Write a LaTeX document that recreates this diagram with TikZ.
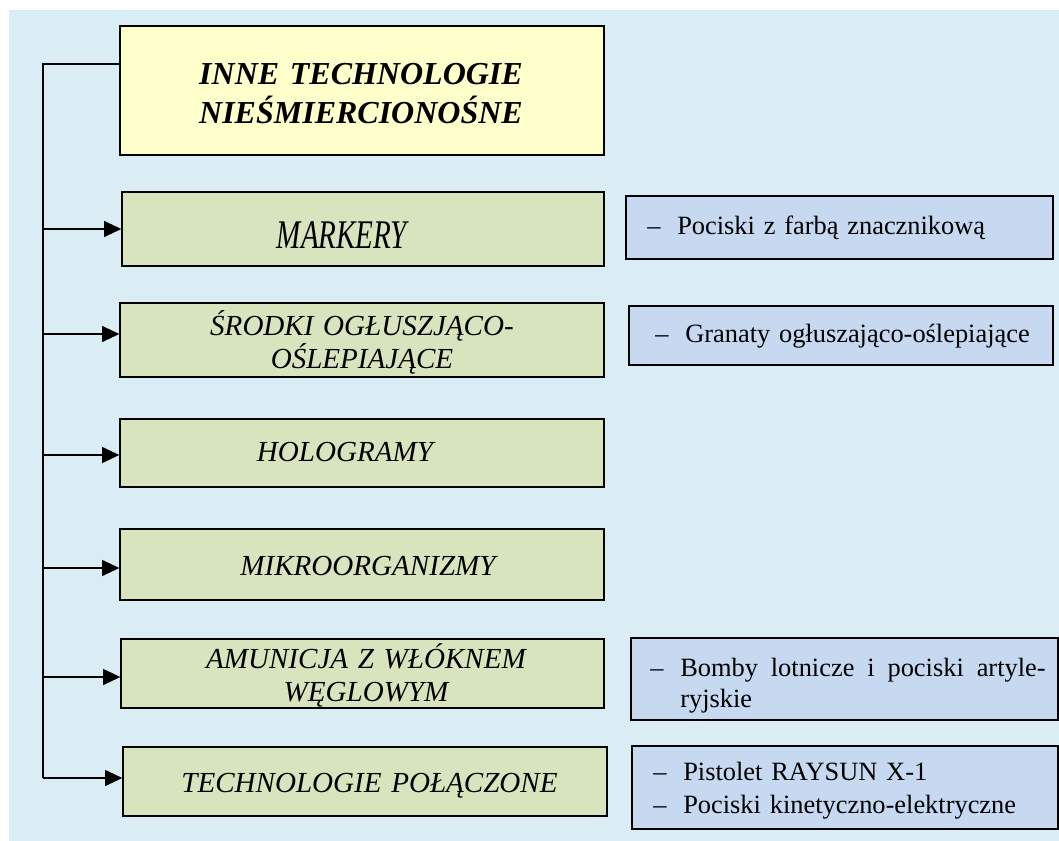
\documentclass[tikz,border=0pt]{standalone}
\usepackage{fontspec}
\setmainfont{Liberation Serif}
\usetikzlibrary{arrows.meta,fit}

\definecolor{bgblue}{HTML}{DAEDF4}
\definecolor{titlefill}{HTML}{FFFFCC}
\definecolor{catfill}{HTML}{D7E4BD}
\definecolor{itemfill}{HTML}{C6D9F1}

\tikzset{
  titlebox/.style={draw=black, line width=1pt, fill=titlefill, inner sep=0pt},
  catbox/.style={draw=black, line width=1pt, fill=catfill, inner sep=0pt},
  itembox/.style={draw=black, line width=1pt, fill=itemfill, inner sep=0pt},
  titletext/.style={inner sep=0pt, anchor=base, text width=450pt, align=center,
    font=\fontsize{24}{29.25}\selectfont\bfseries\itshape},
  cattext/.style={inner sep=0pt, anchor=base, text width=330pt, align=center,
    font=\fontsize{21.8}{25}\selectfont\itshape},
  itemtext/.style={inner sep=0pt, anchor=base west, text width=300pt, align=left,
    font=\fontsize{19.8}{23.5}\selectfont},
  trunk/.style={draw=black, line width=1.3pt},
  branch/.style={draw=black, line width=1.2pt, -{Triangle[length=13pt,width=12pt]}},
}
\newcommand{\itemdash}{\makebox[22.5pt][l]{–}}

\begin{document}
\begin{tikzpicture}[x=0.75pt, y=-0.75pt]
  \useasboundingbox (0,0) rectangle (1059,841);
  \fill[bgblue] (9,10) rectangle (1059,841);

  % main heading
  \node[titlebox, fit={(120,26) (604,155)}] (title) {};
  \node[titletext] at (361,85) {INNE TECHNOLOGIE\\NIEŚMIERCIONOŚNE};

  % categories
  \node[catbox, fit={(122,192) (604,266)}] (markery) {};
  \node[cattext] at (342,249) {\scalebox{1}[1.4]{MARKERY}};

  \node[catbox, fit={(120,303) (604,377)}] (srodki) {};
  \node[cattext] at (362,335) {ŚRODKI OGŁUSZJĄCO-\\OŚLEPIAJĄCE};

  \node[catbox, fit={(120,419) (604,487)}] (holo) {};
  \node[cattext] at (345,461) {HOLOGRAMY};

  \node[catbox, fit={(120,529) (604,600)}] (mikro) {};
  \node[cattext] at (368,575) {MIKROORGANIZMY};

  \node[catbox, fit={(121,639) (604,708)}] (amun) {};
  \node[cattext] at (366,668) {AMUNICJA Z WŁÓKNEM\\WĘGLOWYM};

  \node[catbox, fit={(123,747) (607,816)}] (tech) {};
  \node[cattext] at (369.5,792) {TECHNOLOGIE POŁĄCZONE};

  % examples
  \node[itembox, fit={(626,196) (1053,259)}] (ex1) {};
  \node[itemtext] at (647,235) {\itemdash Pociski z farbą znacznikową};

  \node[itembox, fit={(629,306) (1053,365)}] (ex2) {};
  \node[itemtext] at (655,343) {\itemdash Granaty ogłuszająco-oślepiające};

  \node[itembox, fit={(631,638) (1058,720)}] (ex3) {};
  \node[itemtext, text width=320pt] at (650,676)
    {\itemdash\makebox[274pt][l]{Bomby\hfill lotnicze\hfill i\hfill pociski\hfill artyle-}\\
     \hspace*{22.5pt}ryjskie};

  \node[itembox, fit={(632,746) (1058,829)}] (ex4) {};
  \node[itemtext, font=\fontsize{19.8}{24.75}\selectfont] at (653,780)
    {\itemdash Pistolet RAYSUN X-1\\\itemdash Pociski kinetyczno-elektryczne};

  % connectors
  \coordinate (ttop) at (43,64);
  \coordinate (j1) at (43,229);
  \coordinate (j2) at (43,334);
  \coordinate (j3) at (43,455);
  \coordinate (j4) at (43,568);
  \coordinate (j5) at (43,677);
  \coordinate (j6) at (43,778);

  \draw[trunk] (ttop -| title.west) -- (ttop) -- (j6);
  \draw[branch] (j1) -- (markery.west |- j1);
  \draw[branch] (j2) -- (srodki.west |- j2);
  \draw[branch] (j3) -- (holo.west |- j3);
  \draw[branch] (j4) -- (mikro.west |- j4);
  \draw[branch] (j5) -- (amun.west |- j5);
  \draw[branch] (j6) -- (tech.west |- j6);
\end{tikzpicture}
\end{document}
